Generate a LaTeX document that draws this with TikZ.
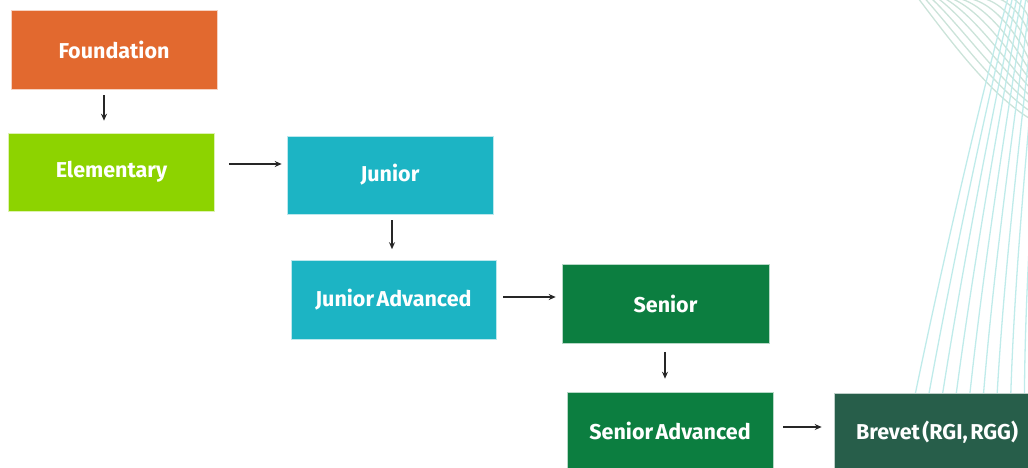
\documentclass[tikz,border=0pt]{standalone}
\usepackage{fontspec}
\setmainfont{Fira Sans}
\usetikzlibrary{arrows.meta}
\definecolor{cOrange}{HTML}{E2692F}
\definecolor{cLime}{HTML}{8DD300}
\definecolor{cTeal}{HTML}{1CB4C4}
\definecolor{cGreen}{HTML}{0C7E40}
\definecolor{cDark}{HTML}{275E4A}
\definecolor{cLineG}{HTML}{CBE3D9}
\definecolor{cLineC}{HTML}{BFEBEA}
\newcommand\myboxfont{\fontsize{21.5}{25}\selectfont\bfseries\spaceskip=2.5pt\relax}
\tikzset{
  box/.style={minimum width=206pt, minimum height=78pt, inner sep=0pt, text=white,
    font=\myboxfont, draw=white!70!#1, line width=0.6pt, fill=#1},
  arr/.style={-{Stealth[length=7pt,width=6pt]}, line width=1.1pt, black!85},
  deco/.style={line width=1.3pt}
}
\begin{document}
\begin{tikzpicture}[x=1pt,y=-1pt]
\useasboundingbox (0,0) rectangle (1028,467);
\clip (0,0) rectangle (1028,467);
% decorative lines
\foreach \i in {0,...,14} {
  \draw[deco, cLineG] ({918+6.5*\i},-2) .. controls ({950+6.5*\i},{40-6*\i}) and ({990+5*\i},{95-7*\i}) .. ({1032},{120-7.5*\i});
}
\foreach \i in {0,...,9} {
  \draw[deco, cLineC] ({914+13.8*\i},400) .. controls ({945+10*\i},{250}) and ({985+7*\i},{80}) .. ({1008+4.5*\i},-2);
}
% nodes
\node[box=cOrange] (F)  at (114,49.5)  [minimum height=79pt] {Foundation};
\node[box=cLime]   (E)  at (111.5,172) {Elementary};
\node[box=cTeal]   (J)  at (390,175)   {Junior};
\node[box=cTeal]   (JA) at (393.5,300) [minimum width=205pt, minimum height=79pt] {Junior Advanced};
\node[box=cGreen]  (S)  at (665.5,304) [minimum width=207pt, minimum height=79pt] {Senior};
\node[box=cGreen]  (SA) at (670,431)   {Senior Advanced};
\node[box=cDark]   (B)  at (937,432)   {Brevet (RGI, RGG)};
% arrows
\draw[arr] ([yshift=-6pt]F.south -| 104,0) -- ([yshift=12pt]E.north -| 104,0);
\draw[arr] ([xshift=14pt]E.east |- 0,164) -- ([xshift=-5pt]J.west |- 0,164);
\draw[arr] ([yshift=-6pt]J.south -| 392,0) -- ([yshift=11pt]JA.north -| 392,0);
\draw[arr] ([xshift=7pt]JA.east |- 0,297) -- ([xshift=-6pt]S.west |- 0,297);
\draw[arr] ([yshift=-8pt]S.south -| 665,0) -- ([yshift=13pt]SA.north -| 665,0);
\draw[arr] ([xshift=10pt]SA.east |- 0,427) -- ([xshift=-12pt]B.west |- 0,427);
\end{tikzpicture}
\end{document}
